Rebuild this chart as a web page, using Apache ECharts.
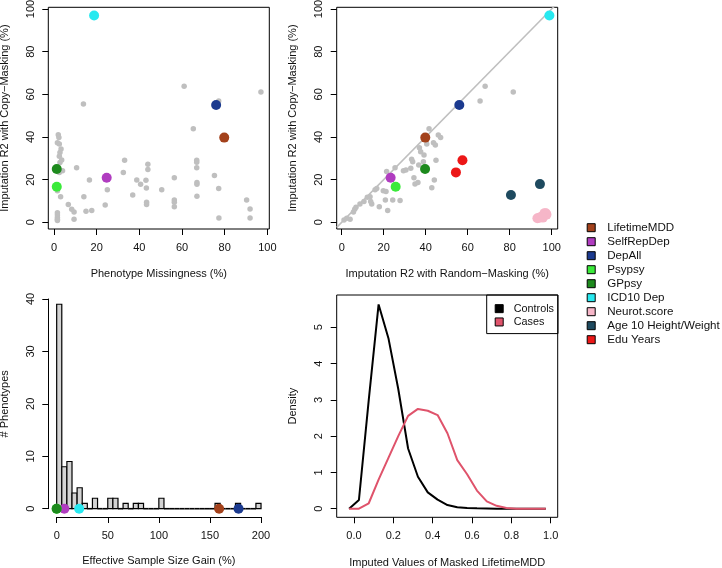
<!DOCTYPE html>
<html><head><meta charset="utf-8">
<script src="https://cdn.jsdelivr.net/npm/echarts@6/dist/echarts.min.js"></script>
<style>html,body{margin:0;padding:0;background:#fff}#c{width:722px;height:568px}</style>
</head><body><div id="c"></div>
<script>
const FONT = 'Liberation Sans, Arial, Helvetica, sans-serif';

// ---------- data ----------
const phenoNames = ['LifetimeMDD','SelfRepDep','DepAll','Psypsy','GPpsy','ICD10 Dep','Neurot.score','Age 10 Height/Weight','Edu Years'];

// Top-left: missingness vs copy-masking R2
const tlGrayMiss = [2,2.3,1.6,2.5,3.3,2.8,2.5,3.6,2.8,4,2.5,1.6,3.1,1.6,1.6,1.6,1.6,1.6,
  6.7,8.3,9.4,9.4,10.6,13.8,14,15,16.6,17.7,24,25,32.5,33.1,36.9,38.8,40.6,43.1,43.3,43.4,43.4,44,44,
  50.5,56.4,56.4,56.4,56.4,61,65.3,66.9,66.9,66.9,67,67,67,75.2,77.2,77.3,77.2,90.3,91.9,91.9,97];
const tlGrayCopy = [41,39.7,37.3,36.7,34.4,32.7,31,29.2,28,24.2,23.3,14.8,12,4.5,3.4,2.3,1.4,0.8,
  8.3,6.1,4.8,1.4,25.6,55.5,12,5.2,19.8,5.5,8.1,15.2,23.4,29.1,12.8,19.8,17.8,19.7,16.1,9.4,8.3,27.2,24.7,
  15.2,20.9,10.5,9.4,7.3,63.8,43.8,29.1,28.1,25.6,18.6,17.8,12.2,21.9,15.8,2,56.9,10.5,6.2,2,61.1];
const tlKeyMiss = [79.8, 24.7, 76.0, 1.3, 1.3, 18.8];
const tlKeyCopy = [39.7, 20.9, 55.0, 16.7, 25.0, 96.9];

// Top-right: random-masking R2 vs copy-masking R2
const trGrayRandom = [1.1,2.4,4,5.6,6.2,6.8,8.7,10.6,12.2,13.5,14.3,13.8,15.9,16.7,17.9,19.8,21.1,20.8,21.4,21.9,
  24.3,25.4,27.8,29.4,30.6,32.9,33.3,33.8,34.4,34.9,36.3,36.7,37,37.6,39.2,38.9,40.5,41.6,42.9,43.7,44.1,44.6,44.9,46,47.1,
  65.9,68.3,81.7];
const trGrayCopy = [1.1,1.9,1.4,4.8,6.1,7,8.6,9.7,11.7,12,8.6,9.8,15.2,15.8,7.3,14.8,14.4,10.5,23.8,5.5,
  10.5,25.6,10.2,24.2,24.5,25.3,29.5,28.4,20.9,18,18.6,26.9,35,33.1,31.6,28.4,36.7,43.8,16.2,37.3,19.8,36.2,29.1,40.9,39.8,
  56.9,63.8,61.1];
const trKeyRandom = [[39.8],[23.3],[56.0],[25.7],[39.7],[98.9],
  [93.2,94.0,94.8,95.5,96.2,96.8,97.2,96.6,97.5,95.8],[80.6,94.4],[54.4,57.5]];
const trKeyCopy = [[39.7],[20.9],[55.0],[16.7],[25.0],[96.9],
  [1.9,2.1,2.4,2.8,3.3,3.9,4.2,4.3,3.6,2.2],[12.8,17.9],[23.4,29.1]];

// Bottom-left: histogram of effective sample size gain
const histBreaks = [0,5,10,15,20,25,30,35,40,45,50,55,60,65,70,75,80,85,90,95,100,
  105,110,115,120,125,130,135,140,145,150,155,160,165,170,175,180,185,190,195,200];
const histCounts = [39,8,9,3,4,1,0,2,0,0,2,2,0,1,0,1,1,0,0,0,2,0,0,0,0,0,0,0,0,0,0,1,0,0,0,1,0,0,0,1];
const blKeyGain = [159, 7.5, 178, 0, 0, 22];

// Bottom-right: density of imputed values
const densityX = [-0.025,0.025,0.075,0.125,0.175,0.225,0.275,0.325,0.375,0.425,0.475,
  0.525,0.575,0.625,0.675,0.725,0.775,0.825,0.875,0.925,0.975];
const densityControls = [0,0.24,3.0,5.63,4.7,3.3,1.66,0.88,0.45,0.25,0.1,0.04,0.02,0.01,0.005,0,0,0,0,0,0];
const densityCases = [0,0,0.15,0.8,1.4,2.0,2.56,2.75,2.7,2.58,2.08,1.34,0.95,0.5,0.2,0.08,0.02,0,0,0,0];

// tick labels
const pctTicks = [0,20,40,60,80,100];
const gainTicks = [0,50,100,150,200];
const countTicks = [0,10,20,30,40];
const imputedTicks = [0,0.2,0.4,0.6,0.8,1.0];
const densityTicks = [0,1,2,3,4,5];

// ---------- styles ----------
const phenoColors = ['#a3411b','#b03cc0','#1b3a8f','#3aea3a','#1d8a1d','#27e9f0','#f6b6c8','#1e4a5f','#ec1717'];
const GRAY = '#bfbfbf';
const txt = {color:'#111', fontSize:11, fontFamily:FONT};

function axis(o) {
  const a = {
    type:'value', gridIndex:o.grid, min:o.min, max:o.max, show: o.show !== false,
    position:o.position,
    axisLine:{show:!!o.line, onZero:false, lineStyle:{color:'#000', width:1}},
    axisTick:{show:true, length:6, lineStyle:{color:'#000', width:1}},
    axisLabel:Object.assign({show:true, margin:o.margin, rotate:o.rotate||0}, txt),
    splitLine:{show:false},
    name:o.name||'', nameLocation:'middle', nameGap:o.nameGap||0, nameTextStyle:Object.assign({}, txt)
  };
  if (o.ticks) {
    a.axisTick.customValues = o.ticks;
    a.axisLabel.customValues = o.ticks;
  }
  if (o.fmt) a.axisLabel.formatter = o.fmt;
  return a;
}

const boxGrid = {show:true, borderColor:'#000', borderWidth:1, backgroundColor:'transparent', containLabel:false, outerBoundsMode:'none'};
const plainGrid = {show:false, containLabel:false, outerBoundsMode:'none'};

const grid = [
  Object.assign({left:48.3, top:7.3, width:221, height:221.7}, boxGrid),
  Object.assign({left:336.7, top:7.3, width:221, height:221.7}, boxGrid),
  Object.assign({left:48.3, top:290.6, width:221, height:226.5}, plainGrid),
  Object.assign({left:56.7, top:299, width:204.3, height:218}, plainGrid),
  Object.assign({left:48.3, top:299, width:212.7, height:209.7}, plainGrid),
  Object.assign({left:336.7, top:295, width:221, height:222.3}, boxGrid)
];

const xAxis = [
  axis({grid:0, min:-2.67, max:100.92, ticks:pctTicks, margin:13, name:'Phenotype Missingness (%)', nameGap:39}),
  axis({grid:1, min:-2.38, max:102.86, ticks:pctTicks, margin:13, name:'Imputation R2 with Random\u2212Masking (%)', nameGap:39}),
  axis({grid:2, min:-8.2, max:208.1, show:false}),
  axis({grid:3, min:0, max:200, ticks:gainTicks, margin:13, line:true, position:'bottom', name:'Effective Sample Size Gain (%)', nameGap:38}),
  axis({grid:4, min:0, max:1, show:false}),
  axis({grid:5, min:-0.088, max:1.0356, ticks:imputedTicks, margin:13, name:'Imputed Values of Masked LifetimeMDD', nameGap:40, fmt:v=>v.toFixed(1)})
];
const yAxis = [
  axis({grid:0, min:-3.14, max:100.78, ticks:pctTicks, margin:12, rotate:90, name:'Imputation R2 with Copy\u2212Masking (%)', nameGap:38}),
  axis({grid:1, min:-3.14, max:100.78, ticks:pctTicks, margin:12, rotate:90, name:'Imputation R2 with Copy\u2212Masking (%)', nameGap:38}),
  axis({grid:2, min:-1.6, max:41.6, show:false}),
  axis({grid:3, min:0, max:1, show:false}),
  axis({grid:4, min:0, max:40, ticks:countTicks, margin:12, rotate:90, line:true, position:'left', name:'# Phenotypes', nameGap:38}),
  axis({grid:5, min:-0.237, max:5.89, ticks:densityTicks, margin:12, rotate:90, name:'Density', nameGap:38})
];

const series = [];
const zip = (a, b) => a.map((v, i) => [v, b[i]]);

// gray points
series.push({type:'scatter', name:'tlGray', xAxisIndex:0, yAxisIndex:0, data:zip(tlGrayMiss, tlGrayCopy),
  symbolSize:5.5, itemStyle:{color:GRAY, opacity:1}, silent:true, z:2});
// diagonal y = x in TR (from the axis limits)
const trXMin = -2.38, trXMax = 102.86;
series.push({type:'line', name:'diag', xAxisIndex:1, yAxisIndex:1, data:[[trXMin,trXMin],[trXMax,trXMax]],
  symbol:'none', clip:true, lineStyle:{color:GRAY, width:1.5}, silent:true, z:2});
series.push({type:'scatter', name:'trGray', xAxisIndex:1, yAxisIndex:1, data:zip(trGrayRandom, trGrayCopy),
  symbolSize:5.5, itemStyle:{color:GRAY, opacity:1}, silent:true, z:2});

// histogram
series.push({
  type:'custom', name:'hist', xAxisIndex:2, yAxisIndex:2, silent:true, z:2,
  data: histCounts.map((c, i) => [histBreaks[i], histBreaks[i+1], c]),
  encode:{x:[0,1], y:2},
  renderItem:(params, api) => {
    const p0 = api.coord([api.value(0), 0]);
    const p1 = api.coord([api.value(1), api.value(2)]);
    if (api.value(2) === 0) {
      return {type:'line', shape:{x1:p0[0], y1:p0[1], x2:p1[0], y2:p0[1]}, style:{stroke:'#000', lineWidth:1.6}};
    }
    return {type:'rect', shape:{x:p0[0], y:p1[1], width:p1[0]-p0[0], height:p0[1]-p1[1]},
      style:{fill:'#d3d3d3', stroke:'#000', lineWidth:1.2}};
  }
});

// colored key phenotypes
phenoNames.forEach((name, i) => {
  const col = phenoColors[i];
  const st = {color:col, opacity:1};
  if (i < tlKeyMiss.length) {
    series.push({type:'scatter', name, xAxisIndex:0, yAxisIndex:0, data:[[tlKeyMiss[i], tlKeyCopy[i]]],
      symbolSize:10, itemStyle:st, z:3});
  }
  series.push({type:'scatter', name, xAxisIndex:1, yAxisIndex:1, data:zip(trKeyRandom[i], trKeyCopy[i]),
    symbolSize:10, itemStyle:st, z:3});
  if (i < blKeyGain.length) {
    series.push({type:'scatter', name, xAxisIndex:2, yAxisIndex:2, data:[[blKeyGain[i], 0]],
      symbolSize:10, itemStyle:st, z:3});
  }
});

// density legend keys (empty) + lines
series.push({type:'scatter', name:'Controls', xAxisIndex:5, yAxisIndex:5, data:[], itemStyle:{color:'#000', opacity:1}});
series.push({type:'scatter', name:'Cases', xAxisIndex:5, yAxisIndex:5, data:[], itemStyle:{color:'#df536b', opacity:1}});
series.push({type:'line', name:'controlsLine', xAxisIndex:5, yAxisIndex:5, data:zip(densityX, densityControls),
  symbol:'none', lineStyle:{color:'#000', width:2}, silent:true, z:3});
series.push({type:'line', name:'casesLine', xAxisIndex:5, yAxisIndex:5, data:zip(densityX, densityCases),
  symbol:'none', lineStyle:{color:'#df536b', width:2}, silent:true, z:3});

const legend = [
  {data:phenoNames, orient:'vertical', left:586.7, top:220.7, icon:'rect', itemWidth:8, itemHeight:8,
   itemGap:0, padding:0, selectedMode:false, itemStyle:{borderColor:'#000', borderWidth:1, opacity:1},
   textStyle:{color:'#111', fontSize:11.6, fontFamily:FONT, lineHeight:14, padding:[0,0,0,7]}},
  {data:['Controls','Cases'], orient:'vertical', left:486.7, top:295, icon:'rect', itemWidth:8, itemHeight:8,
   itemGap:0, padding:[7,4,5,8], selectedMode:false, borderColor:'#000', borderWidth:1,
   itemStyle:{borderColor:'#000', borderWidth:1, opacity:1},
   textStyle:{color:'#111', fontSize:10.8, fontFamily:FONT, lineHeight:13.3, padding:[0,0,0,5.6]}}
];

const chart = echarts.init(document.getElementById('c'), null, {renderer:'canvas'});
chart.setOption({animation:false, backgroundColor:'#fff', grid, xAxis, yAxis, series, legend});
</script></body></html>
